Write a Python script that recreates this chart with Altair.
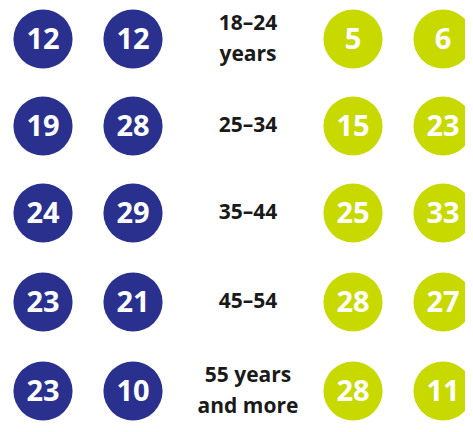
import altair as alt
import pandas as pd

ages = ["18–24\nyears", "25–34", "35–44", "45–54", "55 years\nand more"]
series_a = [12, 19, 24, 23, 23]
series_b = [12, 28, 29, 21, 10]
series_c = [5, 15, 25, 28, 28]
series_d = [6, 23, 33, 27, 11]

cols = ["a", "b", "label", "c", "d"]
col_x = [35, 125, 240, 345, 435]
row_y = [31, 118, 205, 294, 383]

rows = []
for i, age in enumerate(ages):
    for key, vals, grp in [("a", series_a, "blue"), ("b", series_b, "blue"),
                           ("c", series_c, "lime"), ("d", series_d, "lime")]:
        rows.append({"row": i, "col": cols.index(key), "value": vals[i], "group": grp})
df = pd.DataFrame(rows)

lab_rows = []
for i, age in enumerate(ages):
    parts = age.split("\n")
    for j, p in enumerate(parts):
        lab_rows.append({"row": i, "col": cols.index("label"), "text": p,
                         "kind": "single" if len(parts) == 1 else ("top" if j == 0 else "bottom")})
lab = pd.DataFrame(lab_rows)

idx = list(range(5))
xs = alt.X("col:Q", scale=alt.Scale(domain=idx, range=col_x), axis=None)
ys = alt.Y("row:Q", scale=alt.Scale(domain=idx, range=row_y), axis=None)

circles = alt.Chart(df).mark_circle(size=3500, opacity=1).encode(
    x=xs, y=ys,
    color=alt.Color("group:N", scale=alt.Scale(domain=["blue", "lime"], range=["#29308e", "#c8d900"]), legend=None),
)
nums = alt.Chart(df).mark_text(font="Open Sans", fontWeight="bold", fontSize=29, color="white", baseline="middle", dy=1).encode(
    x=xs, y=ys, text="value:Q"
)

def label_layer(kind, dy):
    return alt.Chart(lab).transform_filter(alt.datum.kind == kind).mark_text(
        font="Open Sans", fontWeight="bold", fontSize=21, color="#1a1a1a", baseline="middle", dy=dy
    ).encode(x=xs, y=ys, text="text:N")

labels = label_layer("single", 0) + label_layer("top", -15) + label_layer("bottom", 16)

chart = (circles + nums + labels).properties(
    width=457, height=416, padding=0, autosize=alt.AutoSizeParams(type="none")
).configure_view(stroke=None)

chart.save("out.html", embed_options={"renderer": "svg", "actions": False})
